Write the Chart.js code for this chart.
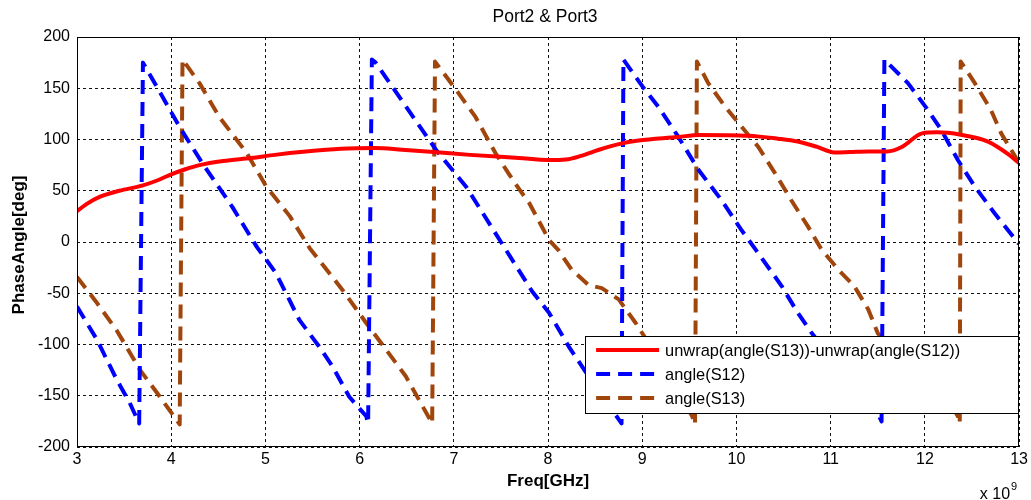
<!DOCTYPE html>
<html>
<head>
<meta charset="utf-8">
<script src="https://cdn.jsdelivr.net/npm/chart.js@4.4.1/dist/chart.umd.min.js"></script>
<style>
  html, body { margin: 0; padding: 0; background: #fff; }
  #wrap { width: 1031px; height: 500px; }
</style>
</head>
<body>
<div id="wrap"><canvas id="c" width="1031" height="500"></canvas></div>
<script>
// ---- data ----
const chartTitle = "Port2 & Port3";
const xTitle = "Freq[GHz]";
const yTitle = "PhaseAngle[deg]";
const xTicks = [3, 4, 5, 6, 7, 8, 9, 10, 11, 12, 13];
const yTicks = [-200, -150, -100, -50, 0, 50, 100, 150, 200];
const seriesNames = ["unwrap(angle(S13))-unwrap(angle(S12))", "angle(S12)", "angle(S13)"];

const freqDiff  = [3.0, 3.1, 3.24, 3.45, 3.69, 3.85, 4.0, 4.15, 4.3, 4.55, 4.85, 5.1, 5.4, 5.8, 6.17, 6.45, 6.75, 7.17, 7.69, 8.0, 8.19, 8.35, 8.54, 8.75, 8.96, 9.38, 9.6, 10.13, 10.44, 10.65, 10.85, 11.04, 11.2, 11.4, 11.6, 11.76, 11.97, 12.13, 12.38, 12.67, 12.88, 13.0];
const phaseDiff = [30, 37, 44, 50, 55, 60, 66, 71, 75, 79, 82, 85, 88, 91, 91.7, 90, 88, 85, 82, 80, 80.5, 84, 90, 95.5, 99, 102.4, 104.5, 103.7, 100.8, 98, 93, 87.4, 87.8, 88.4, 88.4, 93, 106, 107, 104.7, 98, 86, 77];

const freqS12  = [3.0, 3.21, 3.42, 3.56, 3.66, 3.70, 3.9, 4.09, 4.33, 4.65, 4.91, 5.11, 5.36, 5.57, 5.71, 5.89, 6.07, 6.09, 6.13, 6.17, 6.5, 6.81, 7.13, 7.5, 7.83, 8.01, 8.22, 8.43, 8.75, 8.78, 8.80, 9.0, 9.17, 9.38, 9.6, 9.84, 10.05, 10.2, 10.48, 10.65, 10.8, 11.0, 11.25, 11.5, 11.54, 11.57, 11.82, 12.03, 12.17, 12.35, 12.53, 12.74, 13.0];
const phaseS12 = [-63, -95, -134, -157, -177, 175, 143, 112, 77, 34, -5, -30, -76, -102, -121, -151, -170, -177, 178, 175, 131, 90, 54, 0, -48, -69, -102, -131, -173, -177, 178, 152, 132, 103, 70, 41, 12, -7, -43, -69, -89, -112, -140, -167, -175, 178, 155, 129, 110, 80, 54, 28, -2];

const freqS13  = [3.0, 3.2, 3.42, 3.67, 3.88, 4.09, 4.12, 4.30, 4.51, 4.80, 5.01, 5.26, 5.47, 5.82, 6.07, 6.28, 6.49, 6.77, 6.80, 7.02, 7.23, 7.44, 7.58, 7.69, 7.80, 8.01, 8.11, 8.25, 8.43, 8.57, 8.75, 8.93, 9.0, 9.2, 9.4, 9.53, 9.56, 9.58, 9.70, 9.88, 10.05, 10.23, 10.41, 10.58, 10.76, 10.9, 11.08, 11.25, 11.40, 11.5, 11.7, 11.9, 12.1, 12.3, 12.35, 12.37, 12.38, 12.53, 12.70, 12.81, 13.0];
const phaseS13 = [-34, -58, -86, -125, -151, -178, 178, 155, 122, 87, 54, 25, -6, -47, -79, -105, -131, -177, 176, 149, 122, 87, 67, 52, 38, 2, -8, -27, -42, -45, -56, -79, -89, -117, -148, -170, -178, 176, 155, 132, 113, 93, 67, 41, 15, -7, -27, -43, -66, -89, -110, -126, -142, -162, -170, -177, 176, 155, 129, 106, 77];

const colors = ["#ff0000", "#0000ff", "#a0460c"];

// ---- build ----
const toPts = (xs, ys) => xs.map((x, i) => ({ x: x, y: ys[i] }));
const FONT = "'Liberation Sans', Arial, sans-serif";

const decor = {
  id: 'decor',
  beforeDraw(chart) {
    const ctx = chart.ctx;
    ctx.save();
    ctx.fillStyle = '#fff';
    ctx.fillRect(0, 0, chart.width, chart.height);
    ctx.restore();
  },
  afterDatasetsDraw(chart) {
    const { ctx, chartArea: a } = chart;
    ctx.save();
    // axes box
    ctx.strokeStyle = '#000';
    ctx.lineWidth = 1;
    ctx.setLineDash([]);
    ctx.strokeRect(Math.round(a.left) + 0.5, Math.round(a.top) + 0.5,
                   Math.round(a.right - a.left) - 1, Math.round(a.bottom - a.top) - 1);

    // legend box
    const lx1 = a.right - 434, lx2 = a.right - 0.5;
    const ly1 = a.bottom - 111, ly2 = a.bottom - 34;
    ctx.fillStyle = '#fff';
    ctx.fillRect(lx1, ly1, lx2 - lx1, ly2 - ly1);
    ctx.strokeStyle = '#000';
    ctx.lineWidth = 1;
    ctx.strokeRect(Math.round(lx1) + 0.5, Math.round(ly1) + 0.5, Math.round(lx2 - lx1) - 1, Math.round(ly2 - ly1));
    const rows = [ly1 + 14, ly1 + 38, ly1 + 62];
    chart.data.datasets.forEach((ds, i) => {
      ctx.beginPath();
      ctx.strokeStyle = ds.borderColor;
      ctx.lineWidth = ds.borderWidth;
      ctx.lineCap = 'butt';
      ctx.setLineDash(ds.borderDash || []);
      ctx.moveTo(lx1 + 11, rows[i]);
      ctx.lineTo(lx1 + 74, rows[i]);
      ctx.stroke();
      ctx.setLineDash([]);
      ctx.fillStyle = '#000';
      ctx.font = "16.4px " + FONT;
      ctx.textAlign = 'left';
      ctx.textBaseline = 'middle';
      ctx.fillText(ds.label, lx1 + 80, rows[i] + 1);
    });

    // titles
    ctx.fillStyle = '#000';
    ctx.textAlign = 'center';
    ctx.textBaseline = 'middle';
    ctx.font = "17.5px " + FONT;
    ctx.fillText(chartTitle, (a.left + a.right) / 2 - 3, 17);
    ctx.font = "bold 17px " + FONT;
    ctx.fillText(xTitle, (a.left + a.right) / 2, 481);
    ctx.save();
    ctx.translate(19, (a.top + a.bottom) / 2 + 3);
    ctx.rotate(-Math.PI / 2);
    ctx.fillText(yTitle, 0, 0);
    ctx.restore();
    // exponent
    ctx.textAlign = 'right';
    ctx.font = "16px " + FONT;
    ctx.fillText("x 10", a.right - 9, 495);
    ctx.textAlign = 'left';
    ctx.font = "11px " + FONT;
    ctx.fillText("9", a.right - 8, 487);
    ctx.restore();
  }
};

const common = { borderWidth: 4, pointRadius: 0, fill: false, borderJoinStyle: 'round', borderCapStyle: 'butt' };

new Chart(document.getElementById('c'), {
  type: 'line',
  data: {
    datasets: [
      Object.assign({ label: seriesNames[0], data: toPts(freqDiff, phaseDiff), borderColor: colors[0], cubicInterpolationMode: 'monotone' }, common),
      Object.assign({ label: seriesNames[1], data: toPts(freqS12, phaseS12), borderColor: colors[1], borderDash: [14, 8], tension: 0 }, common),
      Object.assign({ label: seriesNames[2], data: toPts(freqS13, phaseS13), borderColor: colors[2], borderDash: [14, 8], tension: 0 }, common)
    ]
  },
  options: {
    responsive: false,
    animation: false,
    devicePixelRatio: 1,
    layout: { padding: { top: 37, right: 9.5, left: 0, bottom: 0 } },
    plugins: { legend: { display: false }, title: { display: false }, tooltip: { enabled: false } },
    scales: {
      x: {
        type: 'linear', min: 3, max: 13,
        afterBuildTicks: (s) => { s.ticks = xTicks.map(v => ({ value: v })); },
        afterFit: (s) => { s.height = 53; },
        ticks: { color: '#000', padding: 3, font: { family: FONT, size: 16 }, maxRotation: 0, autoSkip: false },
        grid: { color: '#111', lineWidth: 1, drawTicks: false },
        border: { display: false, dash: [3, 3] }
      },
      y: {
        type: 'linear', min: -200, max: 200,
        afterBuildTicks: (s) => { s.ticks = yTicks.map(v => ({ value: v })); },
        afterFit: (s) => { s.width = 77; },
        ticks: { color: '#000', padding: 7, font: { family: FONT, size: 16 } },
        grid: { color: '#111', lineWidth: 1, drawTicks: false },
        border: { display: false, dash: [3, 3] }
      }
    }
  },
  plugins: [decor]
});
</script>
</body>
</html>
